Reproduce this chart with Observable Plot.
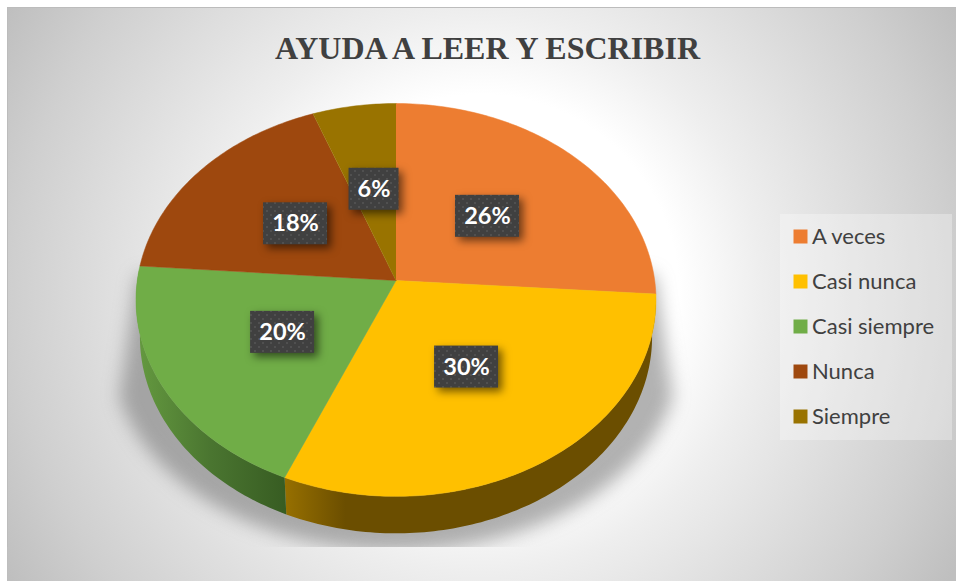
<!DOCTYPE html>
<html><head><meta charset="utf-8">
<script src="https://cdn.jsdelivr.net/npm/d3@7"></script>
<script src="https://cdn.jsdelivr.net/npm/@observablehq/plot@0.6"></script>
<style>html,body{margin:0;padding:0;background:#fff}svg{display:block}</style>
</head><body><div id="c"></div><script>
const titleText = "AYUDA A LEER Y ESCRIBIR";
const categories = ["A veces","Casi nunca","Casi siempre","Nunca","Siempre"];
const shares = [26.1,30.3,19.8,18.1,5.7];
const colors = ["#ED7D31","#FFC000","#70AD47","#9E480E","#997300"];
const wallFills = {"Casi nunca":"url(#wallYellow)","Casi siempre":"url(#wallGreen)"};

const tilt = 0.099, depth = 0.19, rimScale = 0.985;
const project = (deg, f=1) => {
  const a = deg*Math.PI/180, X = f*Math.sin(a), Y = f*Math.cos(a), w = 1+tilt*Y;
  return {x:X/w, y:Y/w};
};
const arcPts = (a0,a1) => { const n=Math.max(2,Math.ceil(Math.abs(a1-a0))); return d3.range(n+1).map(i=>a0+(a1-a0)*i/n); };
let cum = 0;
const slices = categories.map((name,i)=>{ const a0=cum*3.6; cum+=shares[i]; return {name,share:shares[i],a0,a1:cum*3.6}; });

const faces = slices.flatMap(s=>[{name:s.name,x:0,y:0},...arcPts(s.a0,s.a1).map(d=>({name:s.name,...project(d)}))]);
const rim = d => { const p=project(d); return {x:p.x*rimScale,y:p.y-depth}; };
const walls = slices.filter(s=>wallFills[s.name]).map(s=>{
  const a1=Math.min(s.a1,273.6), pts=arcPts(s.a0,a1);
  return {name:s.name, pts:[...pts.map(d=>project(d)),...pts.slice().reverse().map(rim)]};
});
const shadowPts = [{x:1.0,y:0.03},...arcPts(108,252).map(d=>{const p=project(d);return {x:p.x*1.09,y:p.y-depth-0.09};}),{x:-1.0,y:0.03}];
const labels = slices.map(s=>{ const p=project((s.a0+s.a1)/2,0.5), t=Math.round(s.share)+"%";
  return {...p,text:t,hw:(t.length>2?32:25)/258.7,hh:21/194.5}; });
const Y0=280, XC=395.5, A=258.7, B=194.5;

const defs = () => {
  const svg = d3.create("svg:g");
  const d = svg.append("defs");
  const bg = d.append("radialGradient").attr("id","bg").attr("gradientUnits","userSpaceOnUse")
    .attr("cx",480).attr("cy",292).attr("r",550);
  [[.36,"#ffffff"],[.51,"#eeeeee"],[.85,"#cfcfcf"],[1,"#bfbfbf"]].forEach(([o,c])=>bg.append("stop").attr("offset",o).attr("stop-color",c));
  const lin=(id,x1,x2,st)=>{const g=d.append("linearGradient").attr("id",id).attr("gradientUnits","userSpaceOnUse")
    .attr("x1",x1).attr("x2",x2).attr("y1",0).attr("y2",0);
    st.forEach(([o,c])=>g.append("stop").attr("offset",o).attr("stop-color",c));};
  lin("wallYellow",284,345,[[0,"#977000"],[1,"#6b4e00"]]);
  lin("wallGreen",135,286,[[0,"#659a40"],[.5,"#4a7530"],[1,"#375c22"]]);
  const p=d.append("pattern").attr("id","dots").attr("patternUnits","userSpaceOnUse").attr("width",8).attr("height",8);
  p.append("rect").attr("width",8).attr("height",8).attr("fill","#404040");
  p.append("rect").attr("x",2).attr("y",2).attr("width",2).attr("height",2).attr("fill","#505050");
  p.append("rect").attr("x",6).attr("y",6).attr("width",2).attr("height",2).attr("fill","#505050");
  return svg.node();
};

const legendMarks = categories.flatMap((name,i)=>{
  const dy = 229+45*i;
  return [
    Plot.dot([name],{frameAnchor:"top-left",dx:793,dy,r:7.9,symbol:"square",fill:d=>d}),
    Plot.text([name],{frameAnchor:"top-left",text:d=>d,dx:804.5,dy,textAnchor:"start",lineAnchor:"middle",fontFamily:"Lato",fontSize:22,fill:"#404040"})
  ];
});

const chart = Plot.plot({
  width:956,height:581,marginLeft:7,marginTop:7,marginRight:0,marginBottom:0,
  x:{domain:[-1,1],range:[XC-A,XC+A],axis:null},
  y:{domain:[-1,1],range:[Y0+B,Y0-B],axis:null},
  color:{domain:categories,range:colors},
  style:{background:"#fff"},
  marks:[
    defs,
    Plot.frame({fill:"url(#bg)",stroke:"#bcbcbc",strokeWidth:1}),
    Plot.line(shadowPts,{x:"x",y:"y",fill:"#666",stroke:"none",fillOpacity:0.5,imageFilter:"blur(9px)"}),
    Plot.rect([0],{x1:(7.5-XC)/A,x2:(956-XC)/A,y1:(Y0-547)/B,y2:(Y0-600)/B,fill:"url(#bg)"}),
    ...walls.map(w=>Plot.line(w.pts,{x:"x",y:"y",fill:wallFills[w.name],stroke:"none"})),
    Plot.line(faces,{x:"x",y:"y",z:"name",fill:"name",stroke:"name",strokeWidth:0.5}),
    Plot.rect(labels,{x1:d=>d.x-d.hw,x2:d=>d.x+d.hw,y1:d=>d.y-d.hh,y2:d=>d.y+d.hh,fill:"url(#dots)",imageFilter:"drop-shadow(4px 4px 4px rgba(0,0,0,.55))"}),
    Plot.text(labels,{x:"x",y:"y",text:"text",fill:"#fff",fontFamily:"Lato",fontWeight:700,fontSize:23.5}),
    Plot.text([titleText],{frameAnchor:"top-left",text:d=>d,dx:480,dy:41,textAnchor:"middle",lineAnchor:"middle",fontFamily:"Liberation Serif",fontWeight:700,fontSize:32,fill:"#404040"}),
    Plot.rect([0],{x1:(780-XC)/A,x2:(952-XC)/A,y1:(Y0-214)/B,y2:(Y0-440)/B,fill:"#fff",fillOpacity:0.3}),
    ...legendMarks
  ]
});
document.getElementById("c").append(chart);
</script></body></html>
